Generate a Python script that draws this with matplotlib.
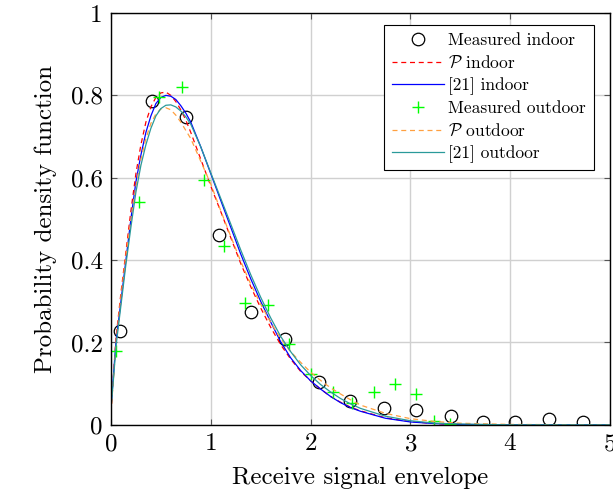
import matplotlib
matplotlib.use("Agg")
from matplotlib import pyplot as plt

plt.rcParams["font.family"] = "serif"
plt.rcParams["font.serif"] = ["cmr10"]
plt.rcParams["mathtext.fontset"] = "cm"
plt.rcParams["axes.formatter.use_mathtext"] = True

# measured points
x_in = [0.09, 0.41, 0.75, 1.08, 1.40, 1.74, 2.08, 2.40, 2.74, 3.06, 3.41, 3.73, 4.05, 4.39, 4.73]
y_in = [0.228, 0.786, 0.748, 0.461, 0.274, 0.208, 0.104, 0.057, 0.040, 0.035, 0.022, 0.008, 0.008, 0.014, 0.008]

x_out = [0.05, 0.28, 0.48, 0.71, 0.93, 1.13, 1.34, 1.57, 1.78, 2.00, 2.22, 2.42, 2.64, 2.85, 3.06, 3.24, 3.40]
y_out = [0.18, 0.54, 0.795, 0.82, 0.595, 0.435, 0.295, 0.29, 0.197, 0.124, 0.079, 0.053, 0.079, 0.10, 0.075, 0.010, 0.002]

xc = [0, 0.025, 0.05, 0.1, 0.15, 0.2, 0.25, 0.3, 0.35, 0.4, 0.45, 0.5, 0.55, 0.6, 0.65, 0.7, 0.75,
      0.8, 0.9, 1.0, 1.1, 1.2, 1.3, 1.4, 1.5, 1.6, 1.7, 1.8, 1.9, 2.0, 2.1, 2.2, 2.3, 2.4, 2.5,
      2.75, 3.0, 3.25, 3.5, 4.0, 5.0]
p_in = [0.03, 0.12, 0.21, 0.32, 0.42, 0.52, 0.61, 0.68, 0.735, 0.772, 0.795, 0.806, 0.808, 0.80, 0.785, 0.765, 0.74,
        0.71, 0.645, 0.58, 0.518, 0.455, 0.392, 0.336, 0.284, 0.237, 0.195, 0.16, 0.13, 0.107, 0.087, 0.069, 0.055, 0.043, 0.034,
        0.017, 0.008, 0.003, 0.001, 0.0, 0.0]
ref_in = [0.04, 0.12, 0.20, 0.30, 0.40, 0.50, 0.59, 0.655, 0.71, 0.75, 0.78, 0.795, 0.80, 0.798, 0.79, 0.775, 0.757,
          0.735, 0.675, 0.61, 0.545, 0.48, 0.415, 0.355, 0.30, 0.25, 0.202, 0.163, 0.132, 0.107, 0.087, 0.069, 0.054, 0.042, 0.033,
          0.016, 0.007, 0.003, 0.001, 0.0, 0.0]
p_out = [0.03, 0.11, 0.20, 0.31, 0.41, 0.50, 0.58, 0.645, 0.695, 0.732, 0.755, 0.767, 0.77, 0.765, 0.752, 0.735, 0.715,
         0.695, 0.64, 0.585, 0.52, 0.458, 0.397, 0.342, 0.293, 0.249, 0.21, 0.178, 0.152, 0.128, 0.108, 0.09, 0.075, 0.061, 0.048,
         0.028, 0.015, 0.008, 0.004, 0.001, 0.0]
ref_out = [0.04, 0.11, 0.19, 0.29, 0.39, 0.48, 0.565, 0.63, 0.68, 0.72, 0.75, 0.768, 0.776, 0.777, 0.772, 0.762, 0.748,
           0.73, 0.675, 0.612, 0.55, 0.488, 0.425, 0.365, 0.31, 0.26, 0.215, 0.178, 0.146, 0.12, 0.098, 0.08, 0.064, 0.051, 0.04,
           0.021, 0.01, 0.004, 0.002, 0.0, 0.0]

fig = plt.figure(figsize=(6.13, 5.01), dpi=100)
ax = fig.add_axes([0.181, 0.152, 0.814, 0.822])

ax.plot(x_in, y_in, "o", mfc="none", mec="black", ms=9, mew=0.9, label="Measured indoor")
ax.plot(xc, p_in, color="red", lw=0.9, dashes=(4, 3), label=r"$\mathcal{P}$ indoor")
ax.plot(xc, ref_in, color="blue", lw=0.9, label="[21] indoor")
ax.plot(x_out, y_out, "+", color="#00ff00", ms=9, mew=1.0, label="Measured outdoor")
ax.plot(xc, p_out, color="#ffa040", lw=0.9, dashes=(4, 3), label=r"$\mathcal{P}$ outdoor")
ax.plot(xc, ref_out, color="#2a9a9a", lw=0.9, label="[21] outdoor")

ax.set_xlim(0, 5)
ax.set_ylim(0, 1)
ax.set_xticks([0, 1, 2, 3, 4, 5])
ax.set_yticks([0, 0.2, 0.4, 0.6, 0.8, 1])
ax.set_yticklabels(["0", "0.2", "0.4", "0.6", "0.8", "1"])
ax.grid(True, color="#d0d0d0", lw=1.0)
ax.set_axisbelow(True)
ax.tick_params(direction="in", top=True, right=True, length=4, labelsize=18, color="#555555", pad=6)
for s in ax.spines.values():
    s.set_linewidth(1.0)
ax.set_xlabel("Receive signal envelope", fontsize=18, labelpad=8)
ax.set_ylabel("Probability density function", fontsize=18, labelpad=10)

leg = ax.legend(loc="upper right", fontsize=12.5, fancybox=False, framealpha=1, edgecolor="black",
                handlelength=3.0, borderpad=0.45, labelspacing=0.36, handletextpad=0.25,
                borderaxespad=0, bbox_to_anchor=(0.968, 0.971))
leg.get_frame().set_linewidth(0.8)

plt.savefig("out.png", dpi=100)
